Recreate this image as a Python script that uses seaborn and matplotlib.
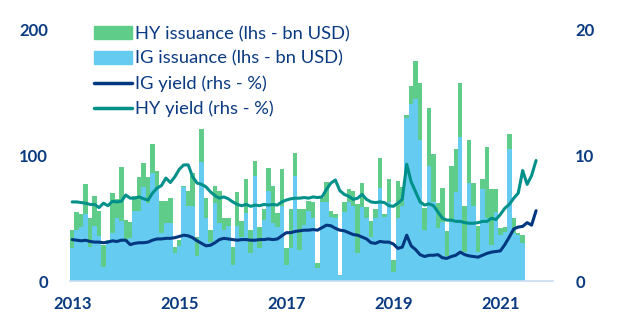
import numpy as np
import pandas as pd
import matplotlib
matplotlib.use("Agg")
import matplotlib.pyplot as plt
import seaborn as sns
from matplotlib.patches import Patch
from matplotlib.lines import Line2D

# ---- data (monthly, from Jan 2013) ----
ig_issuance = [26, 41, 43, 53, 27, 44, 36, 11, 30, 38, 50, 48,
               33, 34, 56, 56, 75, 62, 86, 75, 38, 46, 46, 22,
               28, 75, 60, 60, 20, 95, 50, 31, 62, 46, 41, 44,
               13, 44, 35, 54, 22, 84, 26, 49, 72, 46, 43, 60,
               13, 26, 84, 25, 45, 56, 50, 10, 63, 63, 51, 50,
               5, 55, 63, 60, 22, 59, 50, 35, 50, 74, 51, 63,
               7, 50, 60, 130, 141, 145, 112, 41, 92, 63, 42, 47,
               20, 47, 71, 115, 23, 78, 60, 23, 73, 50, 29, 55,
               37, 39, 105, 38, 37, 30]
total_issuance = [41, 55, 53, 77, 50, 68, 56, 29, 33, 70, 65, 91,
                  49, 47, 68, 83, 94, 83, 109, 88, 64, 64, 66, 27,
                  33, 76, 72, 86, 35, 121, 66, 41, 76, 72, 50, 50,
                  27, 71, 48, 81, 41, 96, 43, 57, 90, 76, 54, 89,
                  26, 57, 102, 57, 57, 64, 63, 14, 66, 79, 56, 53,
                  5, 63, 73, 72, 61, 78, 59, 48, 57, 98, 53, 81,
                  17, 80, 75, 132, 155, 175, 158, 58, 138, 101, 62, 74,
                  40, 92, 105, 158, 60, 112, 78, 44, 81, 107, 73, 73,
                  42, 43, 117, 50, 38, 37]
hy_issuance = [t - i for t, i in zip(total_issuance, ig_issuance)]

hy_yield = [6.3, 6.3, 6.25, 6.2, 6.1, 6.1, 5.85, 6.2, 6.0, 6.35, 6.3, 6.35,
            6.85, 6.6, 6.6, 6.7, 6.55, 6.45, 7.0, 7.4, 7.6, 8.2, 7.85, 8.3,
            8.9, 9.25, 9.25, 8.3, 7.8, 7.7, 7.5, 7.1, 6.8, 6.6, 6.7, 6.55,
            6.3, 6.1, 6.0, 6.1, 5.95, 6.05, 6.0, 6.1, 6.05, 6.1, 6.05, 6.3,
            6.45, 6.55, 6.6, 6.6, 6.65, 6.6, 6.7, 6.65, 6.7, 7.3, 7.8, 8.05,
            7.2, 6.9, 6.75, 6.5, 6.6, 6.9, 6.5, 6.3, 6.25, 6.3, 6.25, 6.0,
            5.95, 6.2, 6.5, 9.3, 7.9, 7.1, 6.3, 6.05, 6.15, 6.0, 5.5, 5.0,
            4.85, 4.85, 4.75, 4.75, 4.65, 4.6, 4.6, 4.65, 4.75, 4.75, 5.0, 4.9,
            5.3, 5.8, 6.1, 6.6, 7.0, 8.8, 7.7, 8.4, 9.6]
ig_yield = [3.3, 3.25, 3.2, 3.25, 3.15, 3.1, 3.1, 3.05, 3.1, 3.2, 3.15, 3.25,
            3.25, 2.9, 3.0, 3.05, 3.05, 3.1, 3.25, 3.35, 3.35, 3.4, 3.4, 3.45,
            3.55, 3.65, 3.6, 3.45, 3.2, 3.0, 2.8, 2.85, 3.05, 3.3, 3.4, 3.35,
            3.3, 3.25, 3.3, 3.3, 3.25, 3.25, 3.3, 3.3, 3.35, 3.3, 3.35, 3.6,
            3.85, 3.85, 3.95, 4.0, 4.05, 4.05, 4.1, 4.05, 4.25, 4.45, 4.4, 4.2,
            4.05, 4.0, 3.85, 3.7, 3.65, 3.5, 3.35, 3.05, 3.0, 3.15, 3.1, 3.1,
            2.95, 2.6, 2.7, 3.65, 2.8, 2.5, 2.1, 1.95, 2.05, 2.05, 2.1, 1.85,
            1.8, 1.95, 2.05, 2.3, 2.1, 2.0, 1.95, 1.9, 2.05, 2.2, 2.3, 2.35,
            2.4, 2.9, 3.5, 4.15, 4.3, 4.35, 4.65, 4.45, 5.6]

tick_labels = ["2013", "2015", "2017", "2019", "2021"]
tick_pos = [0, 24, 48, 72, 96]

GREEN = "#5fcc8a"
LBLUE = "#66cbf0"
NAVY = "#003781"
TEAL = "#00908a"
TXT = "#0a3a80"

sns.set_theme(style="white")
plt.rcParams["font.family"] = ["Lato", "DejaVu Sans"]

fig = plt.figure(figsize=(6.43, 3.33), dpi=100)
ax = fig.add_axes([70 / 643, (333 - 281) / 333, (553 - 70) / 643, (281 - 30) / 333])

bars = pd.DataFrame({"m": np.arange(len(ig_issuance)),
                     "total": total_issuance, "ig": ig_issuance})
sns.barplot(data=bars, x="m", y="total", color=GREEN, width=1.0,
            saturation=1, linewidth=0, ax=ax, native_scale=True)
sns.barplot(data=bars, x="m", y="ig", color=LBLUE, width=1.0,
            saturation=1, linewidth=0, ax=ax, native_scale=True)

ax2 = ax.twinx()
lines = pd.DataFrame({"m": np.arange(len(hy_yield)), "hy": hy_yield, "ig": ig_yield})
sns.lineplot(data=lines, x="m", y="hy", color=TEAL, linewidth=2.2, ax=ax2)
sns.lineplot(data=lines, x="m", y="ig", color=NAVY, linewidth=2.2, ax=ax2)

ax.set_xlim(-0.5, 107.8)
ax.set_ylim(0, 200)
ax2.set_ylim(0, 20)
ax.set_yticks([0, 100, 200])
ax2.set_yticks([0, 10, 20])
ax.set_xticks(tick_pos)
ax.set_xticklabels(tick_labels)
for a in (ax, ax2):
    a.set_xlabel("")
    a.set_ylabel("")
    for s in ("top", "left", "right"):
        a.spines[s].set_visible(False)
    a.spines["bottom"].set_visible(False)
    a.tick_params(length=0, labelsize=12, colors=TXT)
ax.spines["bottom"].set_visible(True)
ax.spines["bottom"].set_color("#c8dcf2")
ax.spines["bottom"].set_linewidth(1.2)
ax.tick_params(axis="y", pad=16)
ax.tick_params(axis="x", pad=11)
ax2.tick_params(axis="y", pad=16)
for lab in ax.get_xticklabels() + ax.get_yticklabels() + ax2.get_yticklabels():
    lab.set_fontweight("bold")
    lab.set_color(TXT)

handles = [Patch(color=GREEN, label="HY issuance (lhs - bn USD)"),
           Patch(color=LBLUE, label="IG issuance (lhs - bn USD)"),
           Line2D([], [], color=NAVY, lw=2.5, label="IG yield (rhs - %)"),
           Line2D([], [], color=TEAL, lw=2.5, label="HY yield (rhs - %)")]
leg = fig.legend(handles=handles, loc="upper left",
                 bbox_to_anchor=(94 / 643, (333 - 26) / 333),
                 frameon=False, fontsize=13.2, labelspacing=0.47,
                 handlelength=2.05, handleheight=0.72, handletextpad=0.2,
                 borderpad=0, borderaxespad=0)
for t in leg.get_texts():
    t.set_color(TXT)

fig.savefig("out.png", dpi=100)
